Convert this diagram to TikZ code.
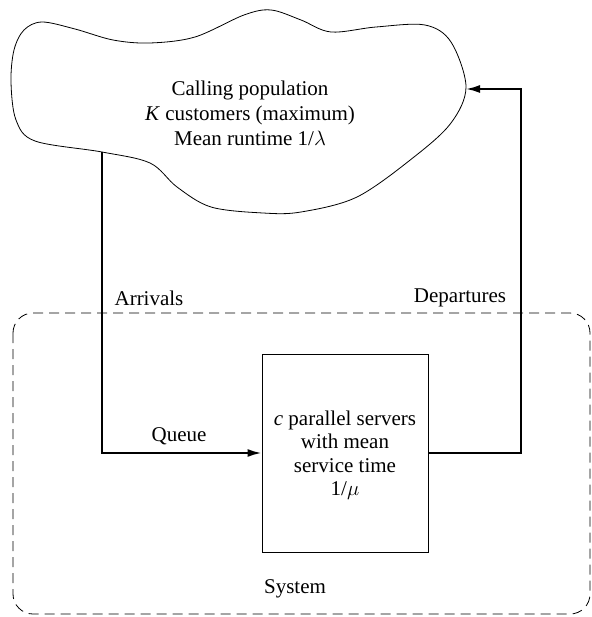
\documentclass[tikz,border=0pt]{standalone}
\usepackage{fontspec}
\setmainfont{Liberation Serif}
\usetikzlibrary{arrows.meta}
\begin{document}
\begin{tikzpicture}[x=1pt,y=-1pt,
  lbl/.style={font=\fontsize{21}{25}\selectfont, inner sep=0pt},
  flow/.style={line width=2pt, -{Latex[length=14pt,width=8pt]}},
  sysbox/.style={dash pattern=on 10pt off 6pt, line width=0.8pt, rounded corners=20pt},
  srvbox/.style={draw, line width=1pt, minimum width=166pt, minimum height=198pt, inner sep=0pt},
  cloudline/.style={line width=0.8pt}]
\useasboundingbox (0,0) rectangle (591,617);
% calling population cloud
\draw[cloudline] plot[smooth cycle, tension=0.55] coordinates {
 (42,22) (75,29) (113,40) (150,43) (195,37) (244,15) (271,10) (301,20) (331,32)
 (376,27) (425,25) (451,42) (466,87) (451,123) (414,157) (357,197) (301,212)
 (263,213) (211,207) (177,187) (150,163) (102,152) (35,141) (16,120) (11,82) (14,50) (24,30)};
\node[lbl, align=center] (pop) at (250,113) {Calling population\\\textit{K} customers (maximum)\\Mean runtime 1/$\lambda$};
% system boundary
\draw[sysbox] (13,313) rectangle (590,614);
\node[lbl] (sys) at (295,589) {System};
% servers
\node[srvbox] (srv) at (345,453) {};
\node[lbl, align=center, font=\fontsize{21}{23.5}\selectfont] (srvtxt) at (345,455) {\textit{c} parallel servers\\with mean\\service time\\1/$\mu$};
% connectors
\coordinate (ain) at (102,152);
\coordinate (acorner) at (102,453);
\coordinate (dcorner1) at (521,453);
\coordinate (dcorner2) at (521,89);
\coordinate (dout) at (466,89);
\draw[flow] (ain) -- (acorner) -- (srv.west);
\draw[flow] (srv.east) -- (dcorner1) -- (dcorner2) -- (dout);
\node[lbl] (arr) at (149,298) {Arrivals};
\node[lbl] (dep) at (460,298) {Departures};
\node[lbl] (que) at (179,436) {Queue};
\end{tikzpicture}
\end{document}
